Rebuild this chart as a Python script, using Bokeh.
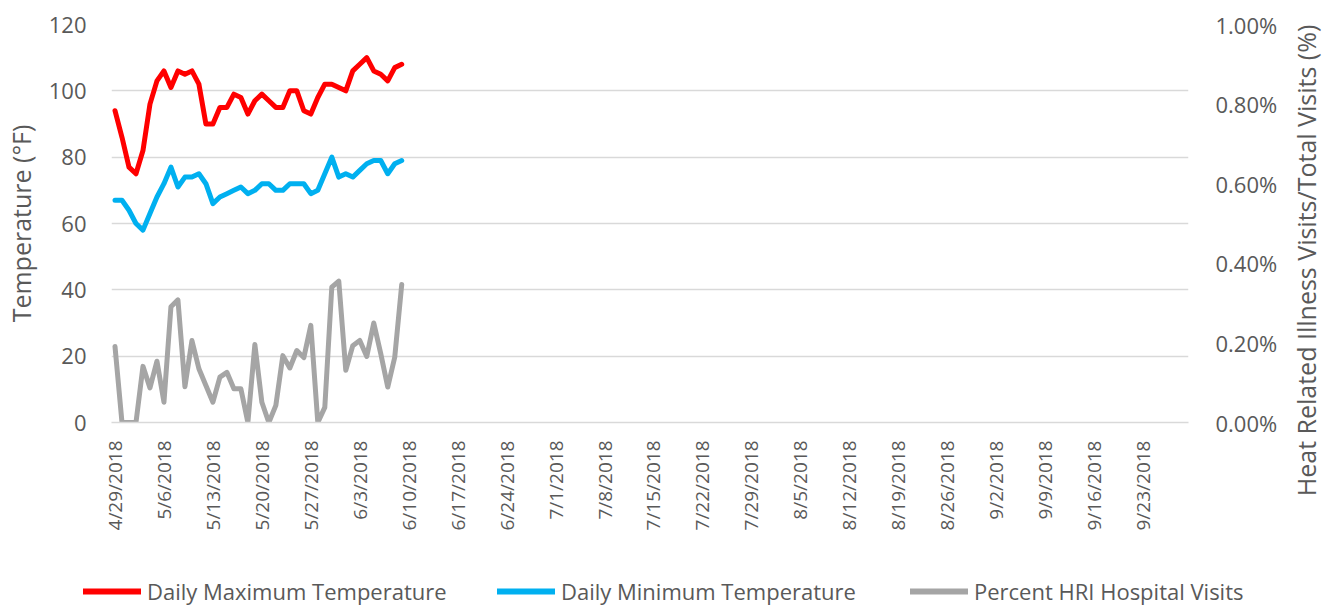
import math
from datetime import date, timedelta

from bokeh.plotting import figure
from bokeh.layouts import row, column
from bokeh.models import (Range1d, LinearAxis, FixedTicker, PrintfTickFormatter,
                          Legend, LegendItem)
from bokeh.embed import file_html
from bokeh.resources import INLINE

# ---------------- data ----------------
axis_start = date(2018, 4, 29)
axis_end = date(2018, 9, 29)

data_start = date(2018, 4, 29)
n_points = 42

daily_max_temp = [94, 86, 77, 75, 82, 96, 103, 106, 101, 106, 105, 106, 102, 90,
                  90, 95, 95, 99, 98, 93, 97, 99, 97, 95, 95, 100, 100, 94,
                  93, 98, 102, 102, 101, 100, 106, 108, 110, 106, 105, 103, 107, 108]

daily_min_temp = [67, 67, 64, 60, 58, 63, 68, 72, 77, 71, 74, 74, 75, 72,
                  66, 68, 69, 70, 71, 69, 70, 72, 72, 70, 70, 72, 72, 72,
                  69, 70, 75, 80, 74, 75, 74, 76, 78, 79, 79, 75, 78, 79]

pct_hri_visits = [0.191, 0.0, 0.0, 0.0, 0.141, 0.087, 0.154, 0.051, 0.291, 0.308,
                  0.090, 0.206, 0.135, 0.093, 0.051, 0.114, 0.126, 0.085, 0.085, 0.0,
                  0.196, 0.051, 0.0, 0.043, 0.168, 0.137, 0.181, 0.163, 0.244, 0.0,
                  0.038, 0.340, 0.355, 0.131, 0.193, 0.206, 0.166, 0.250, 0.173, 0.089,
                  0.164, 0.347]

temp_ticks = [0, 20, 40, 60, 80, 100, 120]
pct_ticks = [0.0, 0.2, 0.4, 0.6, 0.8, 1.0]

series_names = ["Daily Maximum Temperature", "Daily Minimum Temperature",
                "Percent HRI Hospital Visits"]
series_colors = ["#ff0000", "#00b0f0", "#a5a5a5"]

y_title_left = "Temperature (°F)"
y_title_right = "Heat Related Illness Visits/Total Visits (%)"

# ---------------- derived ----------------
n_days = (axis_end - axis_start).days + 1
data_dates = [data_start + timedelta(days=i) for i in range(n_points)]
xs = [(d - axis_start).days for d in data_dates]
tick_dates = [axis_start + timedelta(days=7 * k) for k in range((n_days - 1) // 7 + 1)]
tick_pos = [(d - axis_start).days for d in tick_dates]
tick_labels = {t: f"{d.month}/{d.day}/{d.year}" for t, d in zip(tick_pos, tick_dates)}

FONT = "Open Sans"
TXT = "#595959"
FS_YTICK = "22px"
FS_XTICK = "19px"
FS_TITLE = "25px"
FS_LEG = "22px"

MAIN_W, MAIN_H = 1280, 560
TOTAL_W, TOTAL_H = 1330, 606

p = figure(width=MAIN_W, height=MAIN_H, output_backend="svg", toolbar_location=None,
           x_range=Range1d(-0.5, n_days - 0.5), y_range=Range1d(0, 120),
           min_border_left=107, min_border_right=91, min_border_top=24,
           min_border_bottom=138)
p.outline_line_color = None
p.background_fill_color = "white"
p.border_fill_color = "white"

p.xgrid.grid_line_color = None
p.ygrid.ticker = FixedTicker(ticks=temp_ticks)
p.ygrid.grid_line_color = "#d9d9d9"
p.ygrid.grid_line_width = 1.5

# left axis
ya = p.yaxis[0]
ya.ticker = FixedTicker(ticks=temp_ticks)
ya.axis_line_color = None
ya.major_tick_line_color = None
ya.minor_tick_line_color = None
ya.major_tick_out = 0
ya.major_tick_in = 0
ya.major_label_standoff = 25
ya.major_label_text_font = FONT
ya.major_label_text_font_size = FS_YTICK
ya.major_label_text_color = TXT
ya.axis_label = y_title_left
ya.axis_label_standoff = 8
ya.axis_label_text_font = FONT
ya.axis_label_text_font_size = FS_TITLE
ya.axis_label_text_font_style = "normal"
ya.axis_label_text_color = TXT

# x axis
xa = p.xaxis[0]
xa.ticker = FixedTicker(ticks=tick_pos)
xa.major_label_overrides = tick_labels
xa.major_label_orientation = math.pi / 2
xa.axis_line_color = "#d9d9d9"
xa.axis_line_width = 1.5
xa.major_tick_line_color = None
xa.minor_tick_line_color = None
xa.major_tick_out = 0
xa.major_tick_in = 0
xa.major_label_standoff = 18
xa.major_label_text_font = FONT
xa.major_label_text_font_size = FS_XTICK
xa.major_label_text_color = TXT

# right axis (percent)
p.extra_y_ranges = {"pct": Range1d(0, 1.0)}
ra = LinearAxis(y_range_name="pct", ticker=FixedTicker(ticks=pct_ticks),
                formatter=PrintfTickFormatter(format="%.2f%%"))
ra.axis_line_color = None
ra.major_tick_line_color = None
ra.minor_tick_line_color = None
ra.major_tick_out = 0
ra.major_tick_in = 0
ra.major_label_standoff = 27
ra.major_label_text_font = FONT
ra.major_label_text_font_size = FS_YTICK
ra.major_label_text_color = TXT
p.add_layout(ra, "right")

# lines
r_max = p.line(xs, daily_max_temp, line_color=series_colors[0], line_width=5,
               line_join="round", line_cap="round")
r_min = p.line(xs, daily_min_temp, line_color=series_colors[1], line_width=5,
               line_join="round", line_cap="round")
r_pct = p.line(xs, pct_hri_visits, line_color=series_colors[2], line_width=5,
               line_join="round", line_cap="round", y_range_name="pct")


def blank_fig(w, h, **kw):
    f = figure(width=w, height=h, output_backend="svg", toolbar_location=None,
               x_range=Range1d(0, 1), y_range=Range1d(0, 1),
               x_axis_location=None, **kw)
    f.outline_line_color = None
    f.grid.visible = False
    f.background_fill_color = "white"
    f.border_fill_color = "white"
    return f


# right axis title panel: a label-only axis in a narrow, full-height figure
rt = blank_fig(TOTAL_W - MAIN_W, TOTAL_H, y_axis_location="left",
               min_border_left=46, min_border_right=0, min_border_top=0,
               min_border_bottom=86)
rax = rt.yaxis[0]
rax.ticker = FixedTicker(ticks=[])
rax.axis_line_color = None
rax.major_tick_line_color = None
rax.minor_tick_line_color = None
rax.major_tick_out = 0
rax.major_tick_in = 0
rax.major_label_standoff = 0
rax.axis_label = y_title_right
rax.axis_label_standoff = 4
rax.axis_label_text_font = FONT
rax.axis_label_text_font_size = FS_TITLE
rax.axis_label_text_font_style = "normal"
rax.axis_label_text_color = TXT

# legend panel
lg = blank_fig(MAIN_W, TOTAL_H - MAIN_H, y_axis_location=None,
               min_border=0, min_border_left=0, min_border_right=0,
               min_border_top=0, min_border_bottom=0)
legend_x = [83, 497, 910]
for name, col, lx in zip(series_names, series_colors, legend_x):
    proxy = lg.line([-10, -9], [-10, -10], line_color=col, line_width=6,
                    line_cap="round")
    leg = Legend(items=[LegendItem(label=name, renderers=[proxy])],
                 location=(lx, 0), orientation="horizontal",
                 glyph_width=58, glyph_height=20, label_height=20,
                 label_standoff=6, padding=0, margin=0,
                 border_line_color=None, background_fill_alpha=0,
                 label_text_font=FONT, label_text_font_size=FS_LEG,
                 label_text_color=TXT)
    lg.add_layout(leg)

# nesting keeps each figure's frame independent of its neighbours
layout = row(column(row(p), lg), rt)
open("out.html", "w").write(file_html(layout, INLINE))
